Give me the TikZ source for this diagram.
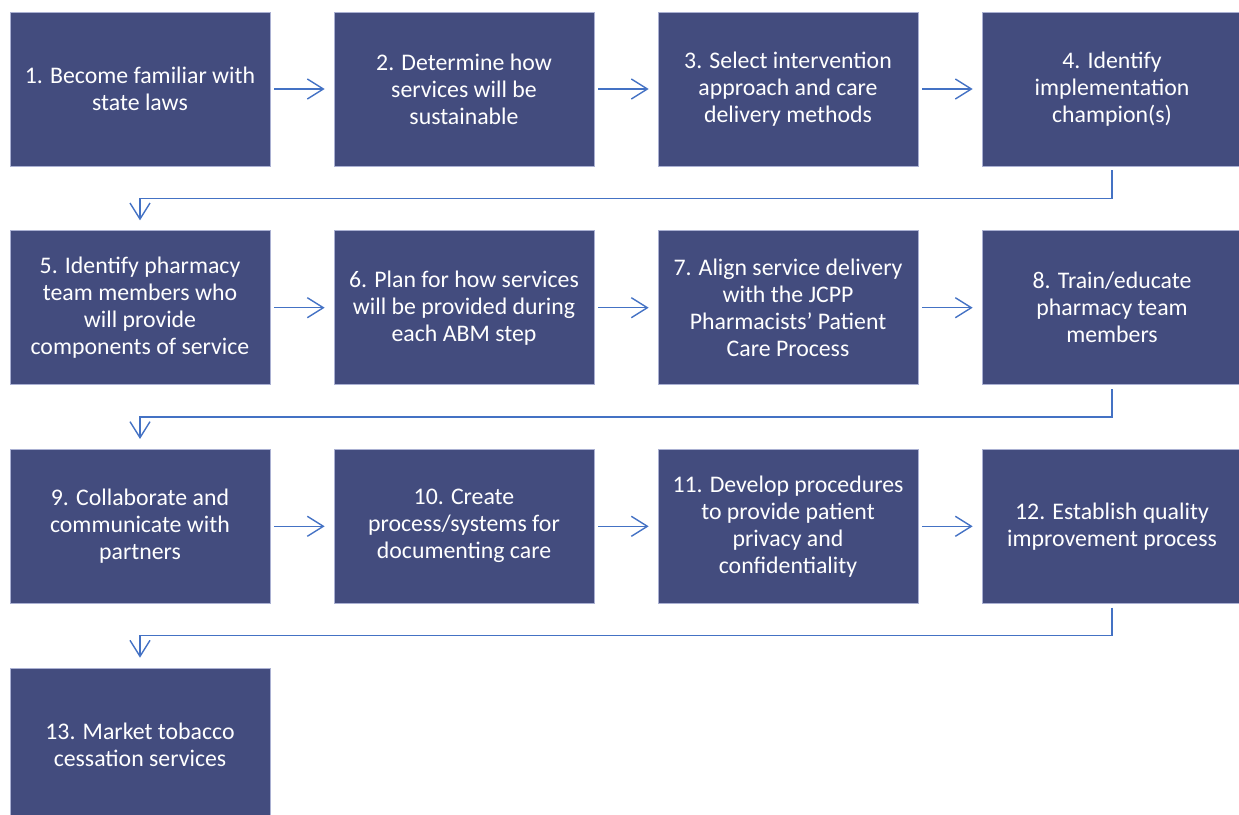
\documentclass[tikz,border=0pt]{standalone}
\usepackage{fontspec}
\setmainfont{Carlito}
\usetikzlibrary{arrows.meta}
\definecolor{boxfill}{RGB}{67,76,126}
\definecolor{boxline}{RGB}{170,176,210}
\definecolor{conncol}{RGB}{68,114,196}
\tikzset{
  stepbox/.style={draw=boxline, line width=0.7pt, fill=boxfill, minimum width=260pt, minimum height=154pt,
    inner sep=0pt, align=center, text=white, font=\fontsize{23.8pt}{27pt}\selectfont},
  conn/.style={draw=conncol, line width=1.4pt, -{Straight Barb[length=16pt,width=20pt,line width=1.4pt]}},
  harrow/.style={conn, shorten <=4pt, shorten >=9pt},
  varrow/.style={conn, shorten <=4pt, shorten >=10pt, rounded corners=0pt}
}
\begin{document}
\begin{tikzpicture}[x=1pt,y=1pt]
\useasboundingbox (0,0) rectangle (1239,-814);
\clip (0,0) rectangle (1239,-814);
\def\ra{-89}
\def\rb{-307.7}
\def\rc{-526.3}
\def\rd{-745}
\node[stepbox] (n1) at (140,\ra) {1. Become familiar with\\state laws};
\node[stepbox] (n2) at (464,\ra) {2. Determine how\\services will be\\sustainable};
\node[stepbox] (n3) at (788,\ra) {3. Select intervention\\approach and care\\delivery methods};
\node[stepbox] (n4) at (1112,\ra) {4. Identify\\implementation\\champion(s)};
\node[stepbox] (n5) at (140,\rb) {5. Identify pharmacy\\team members who\\will provide\\components of service};
\node[stepbox] (n6) at (464,\rb) {6. Plan for how services\\will be provided during\\each ABM step};
\node[stepbox] (n7) at (788,\rb) {7. Align service delivery\\with the JCPP\\Pharmacists’ Patient\\Care Process};
\node[stepbox] (n8) at (1112,\rb) {8. Train/educate\\pharmacy team\\members};
\node[stepbox] (n9) at (140,\rc) {9. Collaborate and\\communicate with\\partners};
\node[stepbox] (n10) at (464,\rc) {10. Create\\process/systems for\\documenting care};
\node[stepbox] (n11) at (788,\rc) {11. Develop procedures\\to provide patient\\privacy and\\confidentiality};
\node[stepbox] (n12) at (1112,\rc) {12. Establish quality\\improvement process};
\node[stepbox] (n13) at (140,\rd) {13. Market tobacco\\cessation services};
\draw[harrow] (n1) -- (n2);
\draw[harrow] (n2) -- (n3);
\draw[harrow] (n3) -- (n4);
\draw[harrow] (n5) -- (n6);
\draw[harrow] (n6) -- (n7);
\draw[harrow] (n7) -- (n8);
\draw[harrow] (n9) -- (n10);
\draw[harrow] (n10) -- (n11);
\draw[harrow] (n11) -- (n12);
\draw[varrow] (n4.south) -- ++(0,-32) -| (n5.north);
\draw[varrow] (n8.south) -- ++(0,-32) -| (n9.north);
\draw[varrow] (n12.south) -- ++(0,-32) -| (n13.north);
\end{tikzpicture}
\end{document}
